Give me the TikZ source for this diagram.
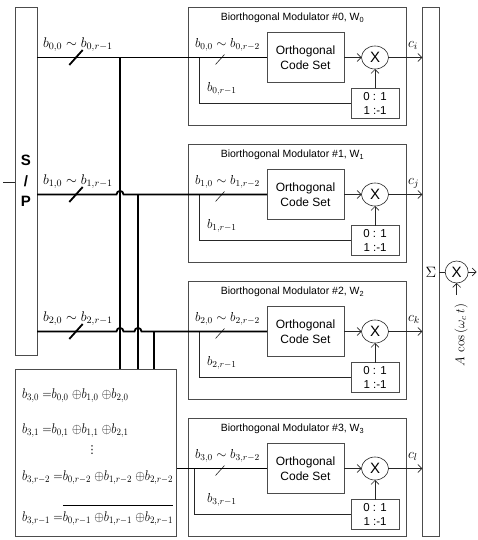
\RequirePackage{fix-cm}
\documentclass[tikz,border=0pt]{standalone}
\usepackage{graphicx}
\usepackage[no-math]{fontspec}
\newfontfamily\arial{Liberation Sans}
\newfontfamily\dejavu{DejaVu Sans}
\usetikzlibrary{arrows.meta,shapes.geometric}
\tikzset{
  every node/.style={inner sep=0pt, outer sep=0pt},
  frame/.style={draw=black!70, line width=0.7pt, rectangle},
  wire/.style={draw=black!85, line width=0.6pt},
  arr/.style={wire, -{Straight Barb[length=4pt,width=8pt,line width=0.6pt]}},
  bus/.style={draw=black, line width=1.8pt},
  mlab/.style={anchor=base west, font=\fontsize{14}{14}\selectfont},
  ilab/.style={anchor=base west, font=\fontsize{13}{13}\selectfont},
  eqlab/.style={anchor=base west, font=\fontsize{14}{14}\selectfont},
  title/.style={anchor=base, font=\arial\fontsize{10.5}{12}\selectfont},
  codebox/.style={frame, minimum width=77pt, minimum height=49.5pt, align=center, font=\arial\fontsize{12}{14.5}\selectfont},
  mapbox/.style={frame, minimum width=48pt, minimum height=30pt, align=center, font=\arial\fontsize{11.5}{14}\selectfont},
  mult/.style={ellipse, draw=black!85, line width=0.6pt, minimum width=27pt, minimum height=23pt, font=\arial\fontsize{15}{15}\selectfont},
}
\newcommand{\xeq}{\;{=}}
\newcommand{\xo}{\;{\oplus}}
\newcommand{\narrow}[1]{\scalebox{0.88}[1]{#1}}
\begin{document}
\begin{tikzpicture}[x=1pt,y=-1pt]
\useasboundingbox (0,0) rectangle (477,540);
% S/P converter
\node[frame, minimum width=22pt, minimum height=347.5pt, align=center,
      font=\arial\bfseries\fontsize{15}{20.5}\selectfont] (sp) at (26,181.25) {S\\/\\P};
\coordinate (in) at (3,182.3);
\draw[wire] (in) -- (in -| sp.west);
% summation block
\node[frame, minimum width=17pt, minimum height=529pt, font=\fontsize{15}{15}\selectfont] (sum) at (430.8,272) {$\Sigma$};
% modulators
\foreach \k/\cc in {0/i,1/j,2/k,3/l}{
  \pgfmathsetmacro\T{7.5+137*\k}
  \pgfmathsetmacro\R{57.5+137*\k}
  \pgfmathsetmacro\bx{ifthenelse(\k==3,194,199)}
  \node[frame, minimum width=218pt, minimum height=118pt, anchor=north west] (mod\k) at (188,\T) {};
  \node[title] (tt\k) at (292.5,\T+13) {Biorthogonal Modulator \#\k, W\textsubscript{\k}};
  \node[codebox] (code\k) at (305.5,\R) {Orthogonal\\Code Set};
  \node[mult] (mul\k) at (375,\R) {X};
  \node[mapbox] (map\k) at (375,\T+96) {0 : 1\\1 :-1};
  \draw[arr] (code\k.east) -- (mul\k.west);
  \draw[arr] (map\k.north) -- (mul\k.south);
  \draw[arr] (mul\k.east) -- (mul\k.east -| sum.west);
  \coordinate (br\k) at (\bx,\R);
  \draw[wire] (br\k) |- (map\k.west);
  \draw[wire] (215.5,\R+7) -- (224.5,\R-3);
  \node[ilab] (il\k) at (195,\R-10) {$b_{\k,0}\sim b_{\k,r-2}$};
  \node[ilab] (bl\k) at (207,\T+84) {$b_{\k,r-1}$};
  \node[mlab] (cl\k) at (408,\R-10) {$c_{\cc}$};
}
% outer bus labels and slashes
\foreach \k in {0,1,2}{
  \pgfmathsetmacro\R{57.5+137*\k}
  \draw[bus] (69.3,\R+7.5) -- (82.7,\R-7.5);
  \node[mlab] (ol\k) at (43,\R-10) {$b_{\k,0}\sim b_{\k,r-1}$};
}
% XOR block
\node[frame, minimum width=161.7pt, minimum height=167.5pt] (xor) at (95.85,452.75) {};
\node[eqlab] (eq0) at (22,398) {\narrow{$b_{3,0}\xeq b_{0,0}\xo b_{1,0}\xo b_{2,0}$}};
\node[eqlab] (eq1) at (22,433) {\narrow{$b_{3,1}\xeq b_{0,1}\xo b_{1,1}\xo b_{2,1}$}};
\node[font=\dejavu\fontsize{11}{11}\selectfont] (dots) at (92,450) {⋮};
\node[eqlab] (eq2) at (22,480) {\narrow{$b_{3,r-2}\xeq b_{0,r-2}\xo b_{1,r-2}\xo b_{2,r-2}$}};
\node[eqlab] (eq3) at (22,521.7) {\narrow{$b_{3,r-1}\xeq\overline{\vphantom{\bigg|}b_{0,r-1}\xo b_{1,r-1}\xo b_{2,r-1}}$}};
% buses
\draw[bus] (sp.east |- code0.west) -- (code0.west);
\draw[bus] (sp.east |- code1.west) -- (116.5,194.5) .. controls (116.5,189.8) and (123.5,189.8) .. (123.5,194.5) -- (code1.west);
\draw[bus] (sp.east |- code2.west) -- (116.5,331.5) .. controls (116.5,326.8) and (123.5,326.8) .. (123.5,331.5)
   -- (134.5,331.5) .. controls (134.5,326.8) and (141.5,326.8) .. (141.5,331.5) -- (code2.west);
\draw[bus] (xor.east |- code3.west) -- (code3.west);
\coordinate (t0) at (120,57.5);
\coordinate (t1) at (138,194.5);
\coordinate (t2) at (154,331.5);
\draw[bus] (t0) -- (t0 |- xor.north);
\draw[bus] (t1) -- (t1 |- xor.north);
\draw[bus] (t2) -- (t2 |- xor.north);
% carrier multiplier
\node[mult, minimum width=23pt, minimum height=22pt] (fmul) at (456.7,272) {X};
\coordinate (out) at (476.5,272);
\coordinate (lo) at (456.7,295);
\draw[wire] (sum.east |- fmul.west) -- (fmul.west);
\draw[arr] (fmul.east) -- (out);
\draw[arr] (lo) -- (fmul.south);
\node[rotate=90, font=\fontsize{13}{13}\selectfont] (car) at (461,335) {$A\,\cos\,(\omega_c\, t)$};
\end{tikzpicture}
\end{document}
